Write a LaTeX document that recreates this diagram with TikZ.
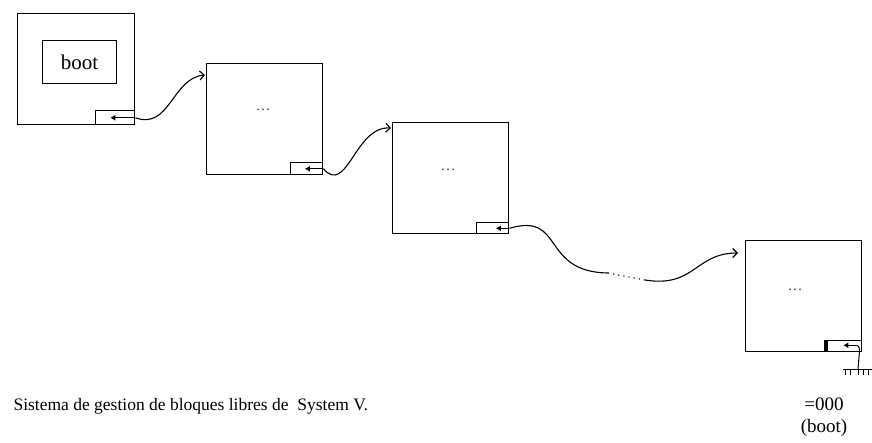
\documentclass[tikz,border=0pt]{standalone}
\usepackage{fontspec}
\setmainfont{Liberation Serif}
\usetikzlibrary{arrows.meta}
\begin{document}
\begin{tikzpicture}[x=1pt,y=-1pt,
  blk/.style={draw,line width=1.4pt,inner sep=0pt,anchor=north west,minimum width=116pt,minimum height=111pt},
  ptrbox/.style={draw,line width=1.2pt,inner sep=0pt,anchor=south east,minimum height=12pt},
  ptr/.style={line width=1pt,-{Latex[length=5pt,width=6pt]}},
  conn/.style={line width=1.1pt,-{Straight Barb[length=4.5pt,width=9pt]}},
  dotsl/.style={font=\fontsize{15}{17}\selectfont,text=black!75}]
\useasboundingbox (0,0) rectangle (872,442);
% blocks
\node[blk,minimum width=117pt] (b1) at (17,13) {};
\node[draw,line width=1.3pt,inner sep=0pt,anchor=north west,minimum width=74pt,minimum height=43pt,
      font=\fontsize{21}{24}\selectfont] (boot) at (42,40) {boot};
\node[blk] (b2) at (206,63) {};
\node[blk] (b3) at (392,122) {};
\node[blk] (b4) at (745,240) {};
% dots
\node[dotsl] (d2) at (263,110) {\dots};
\node[dotsl] (d3) at (448,170) {\dots};
\node[dotsl] (d4) at (795,290) {\dots};
% pointer boxes
\node[ptrbox,minimum width=39pt,minimum height=14pt] (s1) at (b1.south east) {};
\node[ptrbox,minimum width=32pt] (s2) at (b2.south east) {};
\node[ptrbox,minimum width=32pt,minimum height=11pt] (s3) at (b3.south east) {};
\node[ptrbox,minimum width=37pt,minimum height=11pt] (s4) at (b4.south east) {};
\fill ([xshift=-0.6pt]s4.north west) rectangle ([xshift=3.5pt]s4.south west);
% pointer arrows
\draw[ptr] (s1.east) -- ([xshift=-5pt]s1.center);
\draw[ptr] (s2.east) -- ([xshift=-2pt]s2.center);
\draw[ptr] (s3.east) -- ([xshift=3pt]s3.center);
\draw[ptr] ([xshift=-6pt,yshift=1pt]s4.east) -- ([xshift=0pt,yshift=1pt]s4.center);
% ground
\coordinate (gnd) at (858,369);
\draw[line width=1pt] ([xshift=-6pt,yshift=1pt]s4.east) .. controls ([xshift=-2pt,yshift=1pt]s4.east) and ([xshift=-3pt]s4.south east) .. ([xshift=-3pt]s4.south east) -- (gnd);
\draw[line width=1pt] (843,369) -- (872,369);
\foreach \gx in {845,850,858,863,868} \draw[line width=0.9pt] (\gx,369) -- (\gx,375);
% entry points
\coordinate (e2) at ([xshift=-1pt,yshift=-12pt]b2.north west);
\coordinate (e3) at ([xshift=-1pt,yshift=-6pt]b3.north west);
\coordinate (e4) at ([xshift=-7pt,yshift=-13pt]b4.north west);
\coordinate (c1) at (608,273);
\coordinate (c2) at (645,280);
% connectors
\draw[conn] (s1.east) .. controls (170,130) and (172,78) .. (e2);
\draw[conn] (s2.east) .. controls (347,196) and (355,126) .. (e3);
\draw[line width=1.1pt] (s3.east) .. controls (565,212) and (540,272) .. (c1);
\draw[line width=1.1pt,dash pattern=on 1.2pt off 4pt] (c1) -- (c2);
\draw[conn] (c2) .. controls (695,288) and (695,253) .. (e4);
% labels
\node[font=\fontsize{19}{22}\selectfont] (z) at (824,404) {=000};
\node[font=\fontsize{19}{22}\selectfont] (zb) at (824,428) {(boot)};
\node[anchor=west,font=\fontsize{17.5}{20}\selectfont] (cap) at (10,406) {Sistema de gestion de bloques libres de \ System V.};
\end{tikzpicture}
\end{document}
